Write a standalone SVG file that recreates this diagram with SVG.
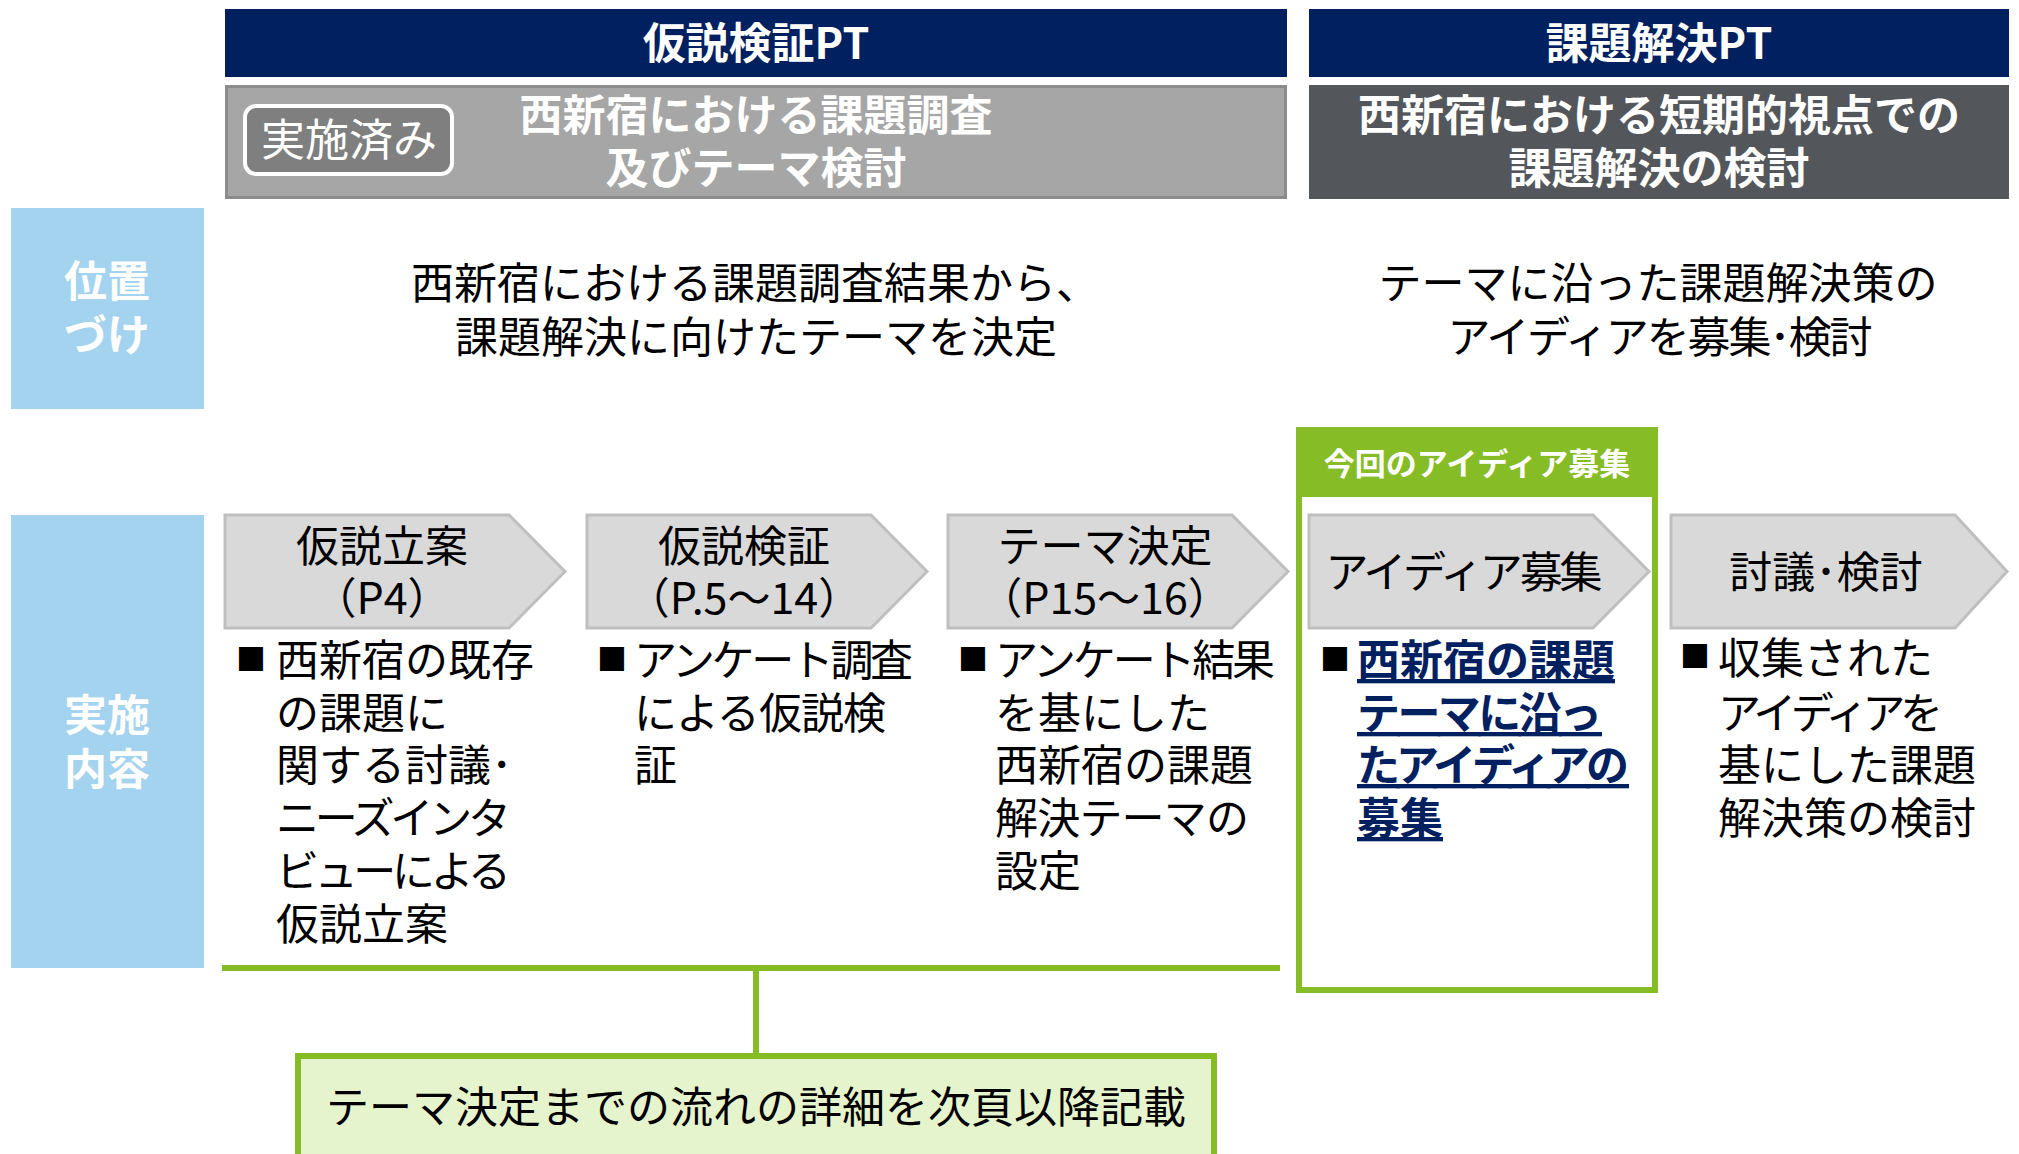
<svg xmlns="http://www.w3.org/2000/svg" width="2019" height="1154" viewBox="0 0 2019 1154">
<style>
text{font-family:"Noto Sans CJK JP","Noto Sans",sans-serif;}
.w{fill:#ffffff;}
.b{fill:#000000;}
.bold{font-weight:bold;}
.f43{font-size:43px;}
.mid{text-anchor:middle;}
.sq{font-size:30px;fill:#000000;}
.chev{fill:#d9d9d9;stroke:#bfbfbf;stroke-width:3;}
.navy{fill:#002060;}
.lb{fill:#a3d3ef;}
.ul{fill:#002060;font-weight:bold;text-decoration:underline;}
.gl{stroke:#86bc25;stroke-width:6;fill:none;}
</style>

<g id="pt1-header">
<rect class="navy" x="225" y="9" width="1062" height="68"/>
<text class="w bold f43 mid" x="756" y="59">仮説検証PT</text>
</g>
<g id="pt2-header">
<rect class="navy" x="1309" y="9" width="700" height="68"/>
<text class="w bold f43 mid" x="1659" y="59">課題解決PT</text>
</g>

<g id="pt1-theme">
<rect x="226.5" y="86.5" width="1059" height="111" fill="#a6a6a6" stroke="#8c8c8c" stroke-width="3"/>
<text class="w bold f43 mid" x="756" y="131">西新宿における課題調査</text>
<text class="w bold f43 mid" x="756" y="184">及びテーマ検討</text>
</g>
<g id="done-badge">
<rect x="245" y="106" width="207" height="68" rx="11" fill="#7f7f7f" stroke="#ffffff" stroke-width="4"/>
<text class="w mid" font-size="44" x="349" y="156">実施済み</text>
</g>
<g id="pt2-theme">
<rect x="1309" y="85" width="700" height="114" fill="#53565a"/>
<text class="w bold f43 mid" x="1659" y="131">西新宿における短期的視点での</text>
<text class="w bold f43 mid" x="1659" y="184">課題解決の検討</text>
</g>

<g id="label-position">
<rect class="lb" x="11" y="208" width="193" height="201"/>
<text class="w bold f43 mid" x="107" y="297">位置</text>
<text class="w bold f43 mid" x="107" y="351">づけ</text>
</g>
<g id="position-pt1">
<text class="b f43 mid" x="755" y="299">西新宿における課題調査結果から、</text>
<text class="b f43 mid" x="756" y="353">課題解決に向けたテーマを決定</text>
</g>
<g id="position-pt2">
<text class="b f43 mid" x="1658" y="299">テーマに沿った課題解決策の</text>
<text class="b f43 mid" x="1660" y="353" textLength="425" lengthAdjust="spacing">アイディアを募集･検討</text>
</g>

<g id="label-content">
<rect class="lb" x="11" y="515" width="193" height="453"/>
<text class="w bold f43 mid" x="107" y="731">実施</text>
<text class="w bold f43 mid" x="107" y="785">内容</text>
</g>

<g id="current-box">
<rect x="1299" y="430" width="356" height="560" fill="#ffffff" stroke="#86bc25" stroke-width="6"/>
<rect x="1296" y="427" width="362" height="70" fill="#86bc25"/>
<text class="w bold mid" font-size="31" x="1477" y="475">今回のアイディア募集</text>
</g>

<g id="step1">
<polygon class="chev" points="225,515 509,515 565,571.5 509,628 225,628"/>
<text class="b f43 mid" x="382" y="562">仮説立案</text>
<text class="b f43 mid" x="382" y="614">（P4）</text>
<text class="sq" x="236" y="670">■</text>
<text class="b f43" x="276" y="676">西新宿の既存</text>
<text class="b f43" x="276" y="729">の課題に</text>
<text class="b f43" x="276" y="781">関する討議･</text>
<text class="b f43" x="276" y="834" textLength="235" lengthAdjust="spacing">ニーズインタ</text>
<text class="b f43" x="276" y="887" textLength="235" lengthAdjust="spacing">ビューによる</text>
<text class="b f43" x="276" y="940">仮説立案</text>
</g>
<g id="step2">
<polygon class="chev" points="587,515 871,515 927,571.5 871,628 587,628"/>
<text class="b f43 mid" x="744" y="562">仮説検証</text>
<text class="b f43 mid" x="744" y="614">（P.5～14）</text>
<text class="sq" x="597" y="670">■</text>
<text class="b f43" x="634" y="676" textLength="279" lengthAdjust="spacing">アンケート調査</text>
<text class="b f43" x="634" y="729" textLength="252" lengthAdjust="spacing">による仮説検</text>
<text class="b f43" x="634" y="781">証</text>
</g>
<g id="step3">
<polygon class="chev" points="948,515 1232,515 1288,571.5 1232,628 948,628"/>
<text class="b f43 mid" x="1105" y="562">テーマ決定</text>
<text class="b f43 mid" x="1105" y="614">（P15～16）</text>
<text class="sq" x="958" y="670">■</text>
<text class="b f43" x="995" y="676" textLength="280" lengthAdjust="spacing">アンケート結果</text>
<text class="b f43" x="995" y="729">を基にした</text>
<text class="b f43" x="995" y="781">西新宿の課題</text>
<text class="b f43" x="995" y="834" textLength="254" lengthAdjust="spacing">解決テーマの</text>
<text class="b f43" x="995" y="887">設定</text>
</g>
<g id="step4">
<polygon class="chev" points="1309,515 1593,515 1649,571.5 1593,628 1309,628"/>
<text class="b f43 mid" x="1464" y="588" textLength="277" lengthAdjust="spacing">アイディア募集</text>
<text class="sq" x="1320" y="670">■</text>
<text class="ul f43" x="1357" y="676">西新宿の課題</text>
<text class="ul f43" x="1357" y="729" textLength="245" lengthAdjust="spacing">テーマに沿っ</text>
<text class="ul f43" x="1357" y="781" textLength="272" lengthAdjust="spacing">たアイディアの</text>
<text class="ul f43" x="1357" y="834">募集</text>
</g>
<g id="step5">
<polygon class="chev" points="1671,515 1955,515 2007,571.5 1955,628 1671,628"/>
<text class="b f43 mid" x="1826" y="588">討議･検討</text>
<text class="sq" x="1680" y="667">■</text>
<text class="b f43" x="1718" y="674">収集された</text>
<text class="b f43" x="1718" y="729" textLength="225" lengthAdjust="spacing">アイディアを</text>
<text class="b f43" x="1718" y="781">基にした課題</text>
<text class="b f43" x="1718" y="834">解決策の検討</text>
</g>

<g id="connectors">
<line class="gl" x1="222" y1="968" x2="1280" y2="968"/>
<line class="gl" x1="756" y1="968" x2="756" y2="1056"/>
</g>

<g id="detail-note">
<rect x="298" y="1056" width="916" height="120" fill="#e6f4cd" stroke="#86bc25" stroke-width="6"/>
<text class="b f43 mid" x="756" y="1123">テーマ決定までの流れの詳細を次頁以降記載</text>
</g>
</svg>
